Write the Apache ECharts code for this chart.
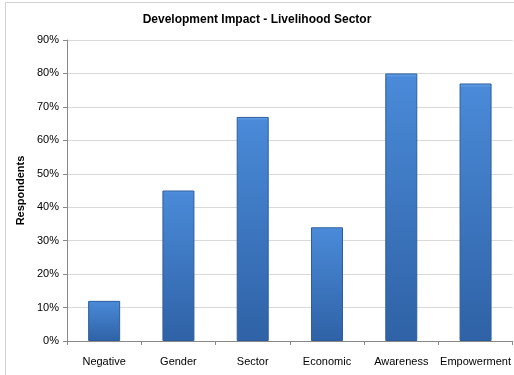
<!DOCTYPE html>
<html><head><meta charset="utf-8">
<script src="https://cdn.jsdelivr.net/npm/echarts@6/dist/echarts.min.js"></script>
<style>html,body{margin:0;padding:0;background:#fff}#c{width:514px;height:375px}</style>
</head><body><div id="c"></div>
<script>
const categories = ["Negative", "Gender", "Sector", "Economic", "Awareness", "Empowerment"];
const values = [12, 45, 67, 34, 80, 77];
const titleText = "Development Impact - Livelihood Sector";
const yAxisName = "Respondents";

const chart = echarts.init(document.getElementById('c'), null, {renderer: 'canvas'});
const font = '"Liberation Sans", Arial, sans-serif';
chart.setOption({
  animation: false,
  backgroundColor: '#fff',
  graphic: [{type: 'rect', shape: {x: 5.5, y: 2.5, width: 530, height: 400}, style: {fill: 'none', stroke: '#d4d4d4', lineWidth: 1}, silent: true, z: -1}],
  title: {text: titleText, left: 'center', top: 9, textStyle: {fontFamily: font, fontSize: 12, fontWeight: 'bold', color: '#000'}},
  grid: {left: 67, right: 1, top: 40, bottom: 34},
  xAxis: {
    type: 'category', data: categories,
    axisLine: {lineStyle: {color: '#888', width: 1}},
    axisTick: {show: true, alignWithLabel: false, length: 4, lineStyle: {color: '#888'}},
    axisLabel: {fontFamily: font, fontSize: 11, color: '#000', margin: 15, interval: 0}
  },
  yAxis: {
    type: 'value', min: 0, max: 90, interval: 10,
    name: yAxisName, nameLocation: 'middle', nameGap: 38,
    nameTextStyle: {fontFamily: font, fontSize: 11, fontWeight: 'bold', color: '#000'},
    axisLine: {show: true, lineStyle: {color: '#888'}},
    axisTick: {show: true, length: 4, lineStyle: {color: '#888'}},
    axisLabel: {formatter: '{value}%', fontFamily: font, fontSize: 11, color: '#000', margin: 8},
    splitLine: {lineStyle: {color: '#d9d9d9', width: 1}}
  },
  series: [{
    type: 'bar', data: values, barWidth: 32,
    itemStyle: {
      color: new echarts.graphic.LinearGradient(0, 0, 0, 1, [
        {offset: 0, color: '#6aa6ec'},
        {offset: 0.015, color: '#4a8ad8'},
        {offset: 1, color: '#2f62a6'}
      ]),
      borderColor: '#2d5c9c', borderWidth: 1
    }
  }]
});
</script></body></html>
